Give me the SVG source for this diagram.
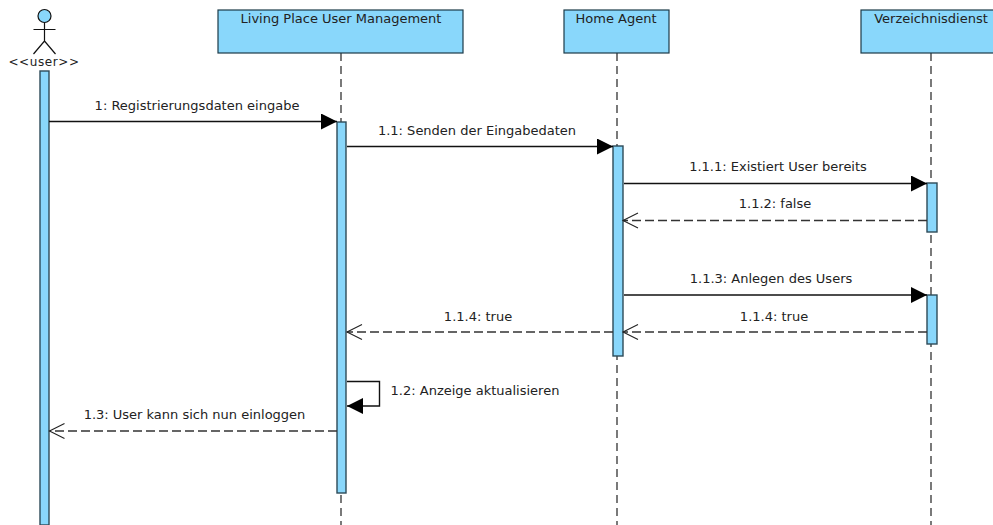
<svg xmlns="http://www.w3.org/2000/svg" width="993" height="525" viewBox="0 0 993 525">
<defs>
<marker id="solid" markerUnits="userSpaceOnUse" markerWidth="17" markerHeight="18" refX="16" refY="8" orient="auto"><path d="M0 0L16 8L0 16Z" fill="#000"/></marker>
<marker id="open" markerUnits="userSpaceOnUse" markerWidth="18" markerHeight="18" refX="16" refY="8" orient="auto"><path d="M1 0.500L16 8L1 15.500" fill="none" stroke="#222" stroke-width="1.100"/></marker>
</defs>
<style>
text{font-family:"DejaVu Sans","Liberation Sans",sans-serif;font-size:13px;fill:#222;text-anchor:middle}
.box{fill:#89d7fb;stroke:#1c3a48;stroke-width:1.200}
.act{fill:#89d7fb;stroke:#2d4a58;stroke-width:1.400}
.life{fill:none;stroke:#222;stroke-width:1.200;stroke-dasharray:8 5}
.msg{fill:none;stroke:#111;stroke-width:1.400;marker-end:url(#solid)}
.ret{fill:none;stroke:#333;stroke-width:1.300;stroke-dasharray:9 4;marker-end:url(#open)}
.st{fill:none;stroke:#111;stroke-width:1.200}
</style>
<g id="lifelines">
<path class="life" d="M341 53V525"/><path class="life" d="M617 53V525"/><path class="life" d="M931 53V525"/>
</g>
<g id="user">
<circle cx="44.500" cy="16" r="6.500" fill="#89d7fb" stroke="#111" stroke-width="1.200"/>
<path class="st" d="M44.500 22.500V41M33.500 29.500H55.500M33.500 54L44.500 41L55.500 54"/>
<text x="44" y="66" style="font-size:12px;letter-spacing:.6px">&lt;&lt;user&gt;&gt;</text>
<rect class="act" x="40" y="71" width="9" height="454"/>
</g>
<g id="living-place">
<rect class="box" x="218" y="10" width="245" height="43"/>
<text x="341" y="23">Living Place User Management</text>
<rect class="act" x="337" y="122" width="9" height="371"/>
</g>
<g id="home-agent">
<rect class="box" x="564" y="10" width="105" height="43"/>
<text x="616" y="23">Home Agent</text>
<rect class="act" x="613" y="146" width="10" height="210"/>
</g>
<g id="verzeichnisdienst">
<rect class="box" x="861" y="10" width="140" height="43"/>
<text x="931" y="23">Verzeichnisdienst</text>
<rect class="act" x="927" y="183" width="10" height="49"/>
<rect class="act" x="927" y="295" width="10" height="49"/>
</g>
<g id="connectors">
<path class="msg" d="M49 121.500H337"/>
<path class="msg" d="M347 146.500H613"/>
<path class="msg" d="M624 183.500H927"/>
<path class="ret" d="M927 220.500H623"/>
<path class="msg" d="M624 295H927"/>
<path class="ret" d="M927 332H623"/>
<path class="ret" d="M613 332H347"/>
<path class="msg" d="M347 381.500H379.500V406H347"/>
<path class="ret" d="M337 431H49.500"/>
</g>
<g id="labels">
<text x="197" y="110">1: Registrierungsdaten eingabe</text>
<text x="477" y="135">1.1: Senden der Eingabedaten</text>
<text x="778" y="171">1.1.1: Existiert User bereits</text>
<text x="775" y="208">1.1.2: false</text>
<text x="771" y="283">1.1.3: Anlegen des Users</text>
<text x="774" y="321">1.1.4: true</text>
<text x="478" y="321">1.1.4: true</text>
<text x="475" y="395">1.2: Anzeige aktualisieren</text>
<text x="194.500" y="419">1.3: User kann sich nun einloggen</text>
</g>
</svg>
